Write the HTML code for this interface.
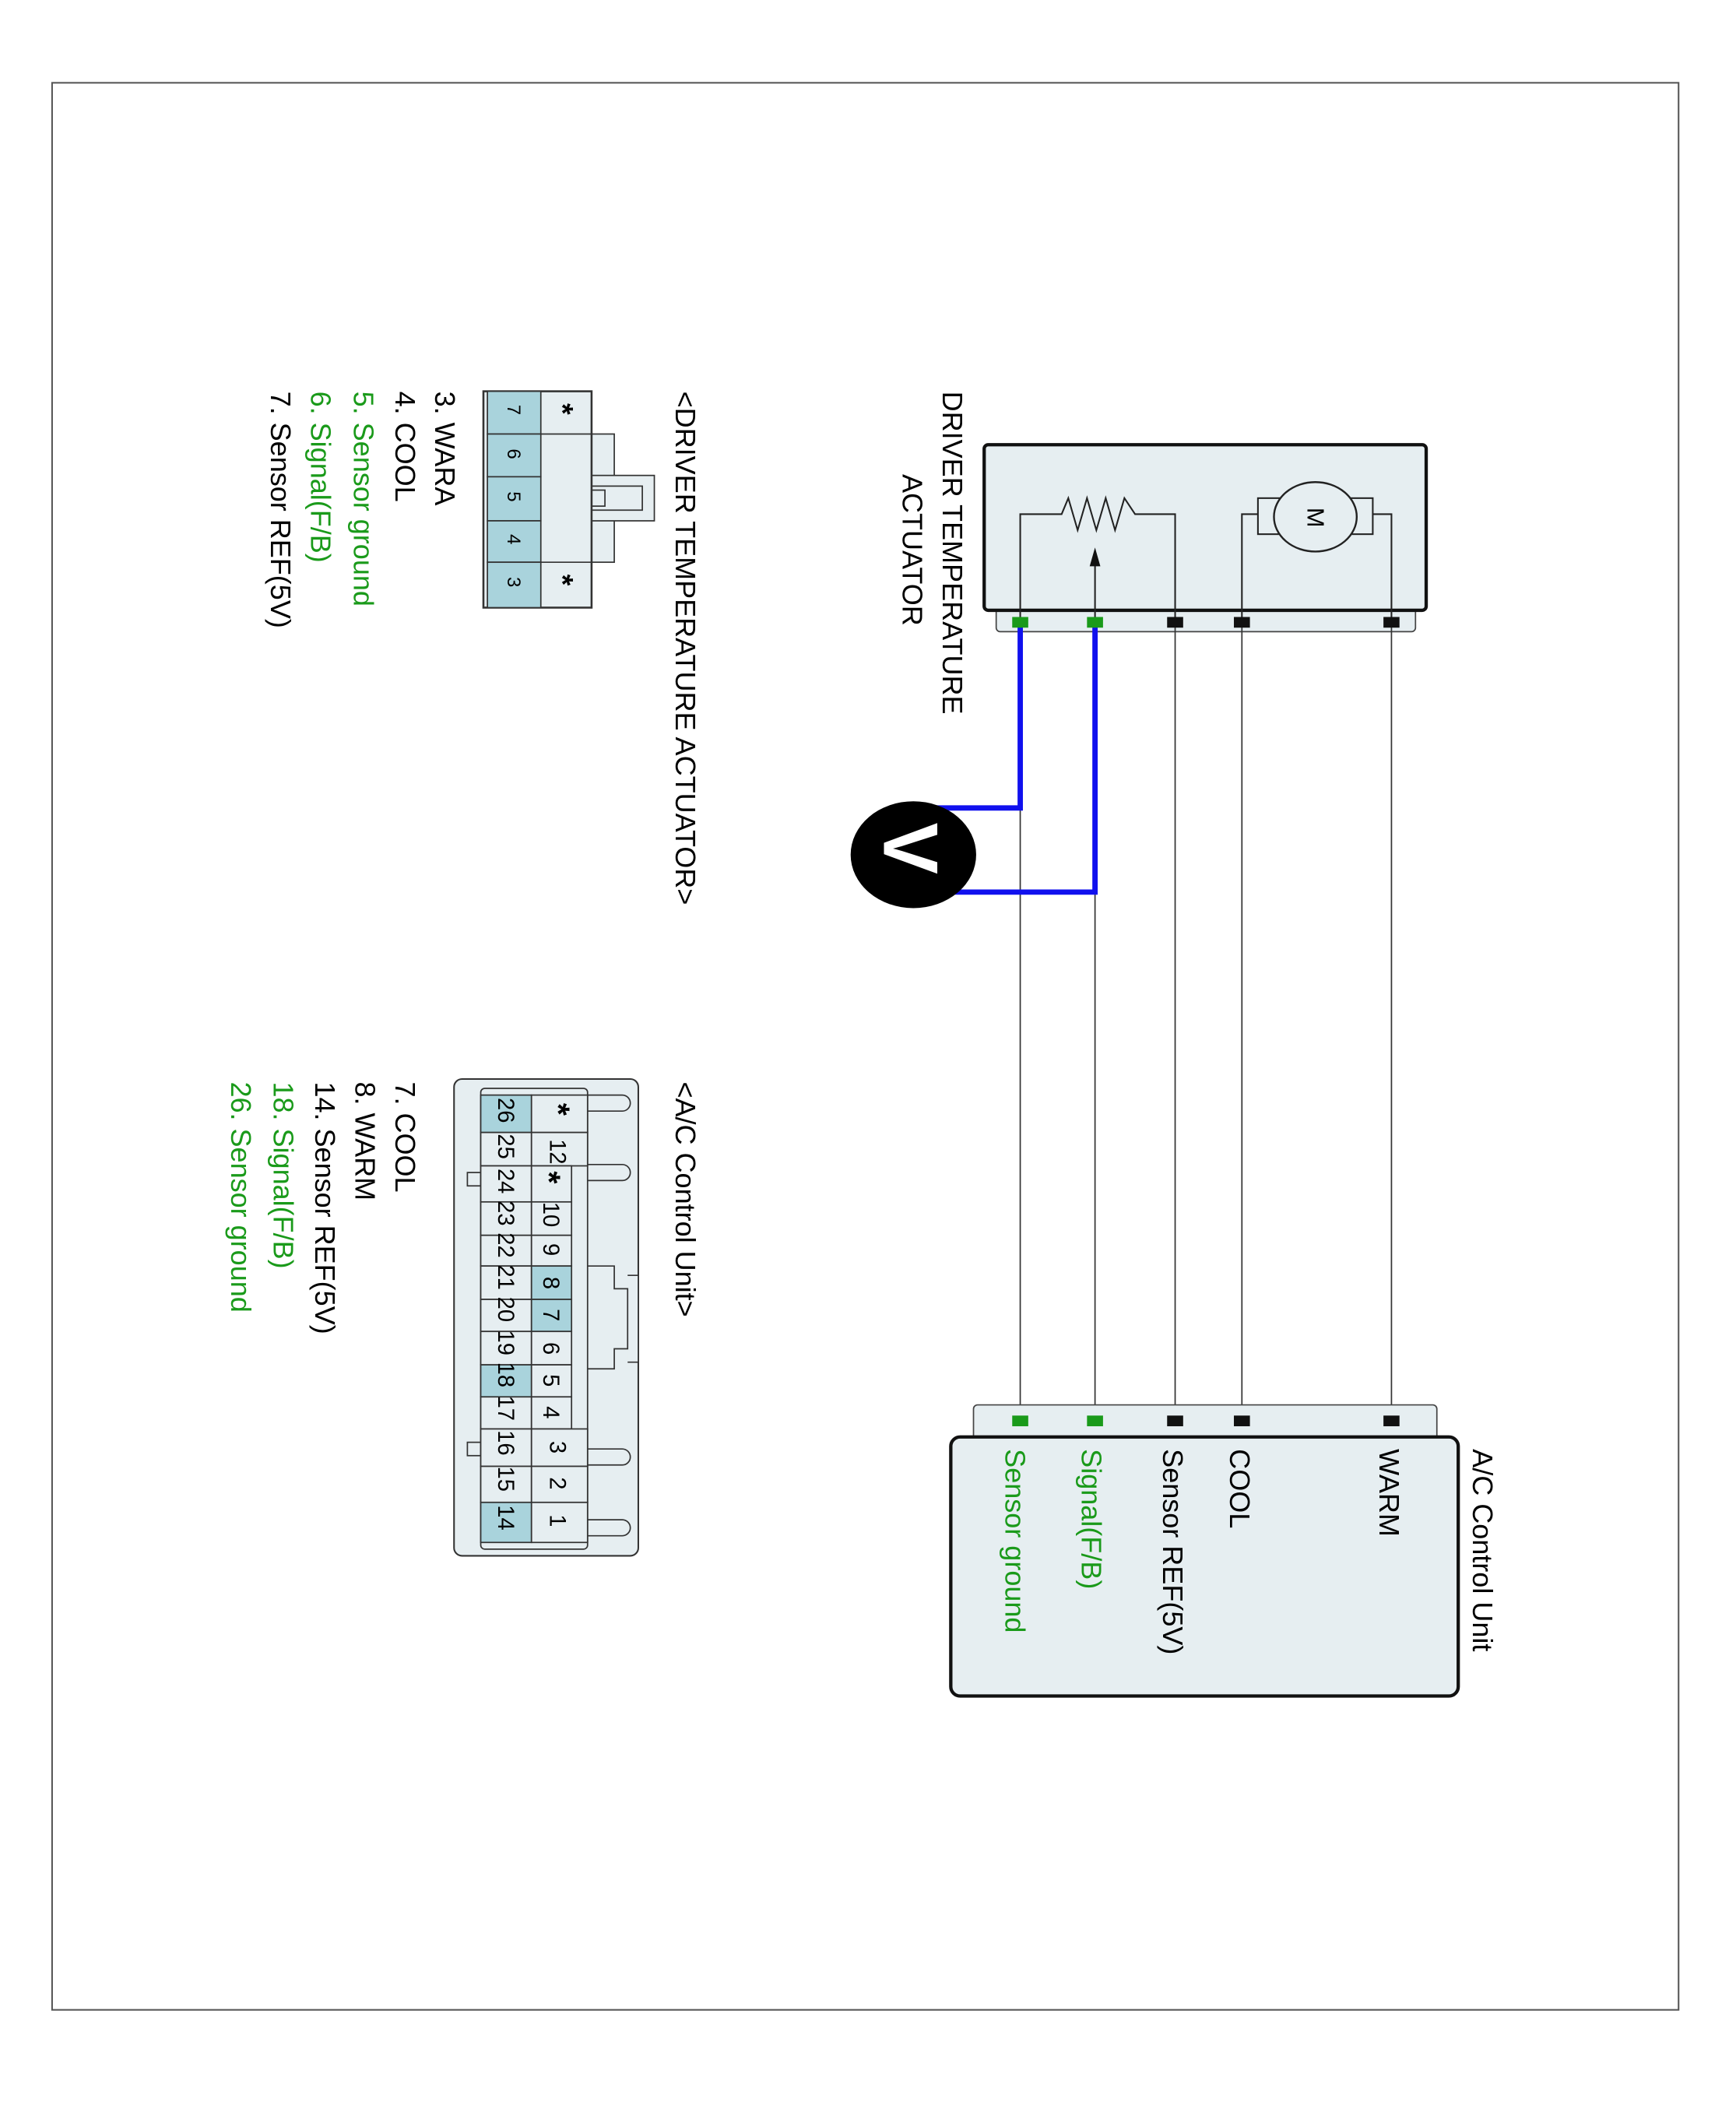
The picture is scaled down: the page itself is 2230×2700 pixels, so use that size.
<!DOCTYPE html>
<html><head><meta charset="utf-8"><style>
html,body{margin:0;padding:0;background:#fff}
svg{display:block}
text{font-family:"Liberation Sans",Arial,sans-serif}
</style></head><body>
<svg width="2230" height="2700" viewBox="0 0 1300 1574" xmlns="http://www.w3.org/2000/svg">
<rect x="0" y="0" width="1300" height="1574" fill="#fff"/>
<rect x="39" y="62" width="1218" height="1443" fill="none" stroke="#555" stroke-width="1.2"/>

<!-- Actuator -->
<rect x="746" y="450" width="314" height="23" rx="3" fill="#e6eef1" stroke="#444" stroke-width="1"/>
<rect x="737" y="333" width="331" height="124" rx="3" fill="#e6eef1" stroke="#111" stroke-width="2.5"/>
<g fill="none" stroke="#222" stroke-width="1.2">
<polyline points="764,466 764,385 795,385 800,373 807,397 814,373 821,397 828,373 835,397 842,373 850,385 880,385 880,466"/>
<line x1="820" y1="466" x2="820" y2="420"/>
<polyline points="930,466 930,385 942,385"/>
<polyline points="1042,466 1042,385 1028,385"/>
<rect x="942" y="373" width="86" height="27"/>
</g>
<polygon points="820,410 816,424 824,424" fill="#111"/>
<ellipse cx="985" cy="387" rx="31" ry="26" fill="#e6eef1" stroke="#222" stroke-width="1.4"/>
<text transform="translate(979,380) rotate(90)" font-size="18">M</text>

<!-- wires -->
<g stroke="#333" stroke-width="1">
<line x1="764" y1="466" x2="764" y2="1064"/>
<line x1="820" y1="466" x2="820" y2="1064"/>
<line x1="880" y1="466" x2="880" y2="1064"/>
<line x1="930" y1="466" x2="930" y2="1064"/>
<line x1="1042" y1="466" x2="1042" y2="1064"/>
</g>
<g fill="none" stroke="#1010ee" stroke-width="4">
<polyline points="764,466 764,605 700,605"/>
<polyline points="820,466 820,668 700,668"/>
</g>
<ellipse cx="684" cy="640" rx="47" ry="40" fill="#000"/>
<text transform="translate(662,616) rotate(90)" font-size="58" font-weight="bold" fill="#fff">V</text>

<!-- pins actuator -->
<rect x="758" y="462" width="12" height="8" fill="#1a9a1a"/>
<rect x="814" y="462" width="12" height="8" fill="#1a9a1a"/>
<rect x="874" y="462" width="12" height="8" fill="#111"/>
<rect x="924" y="462" width="12" height="8" fill="#111"/>
<rect x="1036" y="462" width="12" height="8" fill="#111"/>

<text transform="translate(706,293) rotate(90)" font-size="21">DRIVER TEMPERATURE</text>
<text transform="translate(676,355) rotate(90)" font-size="21">ACTUATOR</text>

<!-- AC unit -->
<rect x="729" y="1052" width="347" height="30" rx="3" fill="#e6eef1" stroke="#444" stroke-width="1"/>
<rect x="712" y="1076" width="380" height="194" rx="7" fill="#e6eef1" stroke="#111" stroke-width="2.5"/>
<rect x="758" y="1060" width="12" height="8" fill="#1a9a1a"/>
<rect x="814" y="1060" width="12" height="8" fill="#1a9a1a"/>
<rect x="874" y="1060" width="12" height="8" fill="#111"/>
<rect x="924" y="1060" width="12" height="8" fill="#111"/>
<rect x="1036" y="1060" width="12" height="8" fill="#111"/>
<text transform="translate(1103,1085) rotate(90)" font-size="21">A/C Control Unit</text>
<text transform="translate(1033,1085) rotate(90)" font-size="21">WARM</text>
<text transform="translate(921,1085) rotate(90)" font-size="21">COOL</text>
<text transform="translate(871,1085) rotate(90)" font-size="21">Sensor REF(5V)</text>
<text transform="translate(810,1085) rotate(90)" font-size="21" fill="#1a9a1a">Signal(F/B)</text>
<text transform="translate(753,1085) rotate(90)" font-size="21" fill="#1a9a1a">Sensor ground</text>

<!-- connector 1 -->
<text transform="translate(506,293) rotate(90)" font-size="21">&lt;DRIVER TEMPERATURE ACTUATOR&gt;</text>
<g stroke="#333" stroke-width="1">
<rect x="443" y="325" width="17" height="96" fill="#e6eef1"/>
<rect x="443" y="356" width="47" height="34" fill="#e6eef1"/>
<rect x="443" y="364" width="38" height="18" fill="none"/>
<rect x="443" y="367" width="10" height="12" fill="none"/>
<rect x="362" y="293" width="81" height="162" fill="#e6eef1" stroke-width="1.5"/>
<rect x="365" y="293" width="40" height="32" fill="#a9d3dc"/>
<rect x="365" y="325" width="40" height="32" fill="#a9d3dc"/>
<rect x="365" y="357" width="40" height="33" fill="#a9d3dc"/>
<rect x="365" y="390" width="40" height="31" fill="#a9d3dc"/>
<rect x="365" y="421" width="40" height="34" fill="#a9d3dc"/>
<line x1="405" y1="325" x2="443" y2="325"/>
<line x1="405" y1="421" x2="443" y2="421"/>
</g>
<g font-size="14">
<text transform="translate(380,303) rotate(90)">7</text>
<text transform="translate(380,336) rotate(90)">6</text>
<text transform="translate(380,368) rotate(90)">5</text>
<text transform="translate(380,400) rotate(90)">4</text>
<text transform="translate(380,432) rotate(90)">3</text>
</g>
<text transform="translate(414,302) rotate(90)" font-size="22" font-weight="bold">*</text>
<text transform="translate(414,430) rotate(90)" font-size="22" font-weight="bold">*</text>
<g font-size="21">
<text transform="translate(326,293) rotate(90)">3. WARA</text>
<text transform="translate(296,293) rotate(90)">4. COOL</text>
<text transform="translate(265,293) rotate(90)" fill="#1a9a1a">5. Sensor ground</text>
<text transform="translate(233,293) rotate(90)" fill="#1a9a1a">6. Signal(F/B)</text>
<text transform="translate(203,293) rotate(90)">7. Sensor REF(5V)</text>
</g>

<!-- connector 2 -->
<text transform="translate(506,810) rotate(90)" font-size="21">&lt;A/C Control Unit&gt;</text>
<rect x="340" y="808" width="138" height="357" rx="6" fill="#e6eef1" stroke="#333" stroke-width="1.2"/>
<g fill="#e6eef1" stroke="#333" stroke-width="1">
<path d="M440,820 H466 a6,6 0 0 1 0,12 H440"/>
<path d="M440,872 H466 a6,6 0 0 1 0,12 H440"/>
<path d="M440,1085 H466 a6,6 0 0 1 0,12 H440"/>
<path d="M440,1138 H466 a6,6 0 0 1 0,12 H440"/>
<path d="M470,955 H478 V1020 H470"/>
<path d="M428,948 H460 V965 H470 V1010 H460 V1025 H428"/>
<rect x="350" y="878" width="10" height="10"/>
<rect x="350" y="1080" width="10" height="10"/>
<rect x="360" y="815" width="80" height="345" rx="3"/>
</g>
<g stroke="#333" stroke-width="1">
<rect x="360" y="820" width="38" height="28" fill="#a9d3dc"/>
<rect x="360" y="848" width="38" height="25" fill="#e6eef1"/>
<rect x="360" y="873" width="38" height="27" fill="#e6eef1"/>
<rect x="360" y="900" width="38" height="25" fill="#e6eef1"/>
<rect x="360" y="925" width="38" height="23" fill="#e6eef1"/>
<rect x="360" y="948" width="38" height="25" fill="#e6eef1"/>
<rect x="360" y="973" width="38" height="24" fill="#e6eef1"/>
<rect x="360" y="997" width="38" height="25" fill="#e6eef1"/>
<rect x="360" y="1022" width="38" height="24" fill="#a9d3dc"/>
<rect x="360" y="1046" width="38" height="24" fill="#e6eef1"/>
<rect x="360" y="1070" width="38" height="28" fill="#e6eef1"/>
<rect x="360" y="1098" width="38" height="27" fill="#e6eef1"/>
<rect x="360" y="1125" width="38" height="30" fill="#a9d3dc"/>
<rect x="398" y="820" width="42" height="28" fill="#e6eef1"/>
<rect x="398" y="848" width="42" height="25" fill="#e6eef1"/>
<rect x="398" y="873" width="30" height="27" fill="#e6eef1"/>
<rect x="398" y="900" width="30" height="25" fill="#e6eef1"/>
<rect x="398" y="925" width="30" height="23" fill="#e6eef1"/>
<rect x="398" y="948" width="30" height="25" fill="#a9d3dc"/>
<rect x="398" y="973" width="30" height="24" fill="#a9d3dc"/>
<rect x="398" y="997" width="30" height="25" fill="#e6eef1"/>
<rect x="398" y="1022" width="30" height="24" fill="#e6eef1"/>
<rect x="398" y="1046" width="30" height="24" fill="#e6eef1"/>
<rect x="398" y="1070" width="42" height="28" fill="#e6eef1"/>
<rect x="398" y="1098" width="42" height="27" fill="#e6eef1"/>
<rect x="398" y="1125" width="42" height="30" fill="#e6eef1"/>
</g>
<g font-size="17">
<text transform="translate(373,822) rotate(90)">26</text>
<text transform="translate(373,849) rotate(90)">25</text>
<text transform="translate(373,875) rotate(90)">24</text>
<text transform="translate(373,899) rotate(90)">23</text>
<text transform="translate(373,923) rotate(90)">22</text>
<text transform="translate(373,947) rotate(90)">21</text>
<text transform="translate(373,971) rotate(90)">20</text>
<text transform="translate(373,996) rotate(90)">19</text>
<text transform="translate(373,1020) rotate(90)">18</text>
<text transform="translate(373,1045) rotate(90)">17</text>
<text transform="translate(373,1071) rotate(90)">16</text>
<text transform="translate(373,1098) rotate(90)">15</text>
<text transform="translate(373,1127) rotate(90)">14</text>
<text transform="translate(412,853) rotate(90)">12</text>
<text transform="translate(407,900) rotate(90)">10</text>
<text transform="translate(407,931) rotate(90)">9</text>
<text transform="translate(407,956) rotate(90)">8</text>
<text transform="translate(407,980) rotate(90)">7</text>
<text transform="translate(407,1005) rotate(90)">6</text>
<text transform="translate(407,1029) rotate(90)">5</text>
<text transform="translate(407,1053) rotate(90)">4</text>
<text transform="translate(412,1079) rotate(90)">3</text>
<text transform="translate(412,1106) rotate(90)">2</text>
<text transform="translate(412,1134) rotate(90)">1</text>
</g>
<text transform="translate(410,826) rotate(90)" font-size="24" font-weight="bold">*</text>
<text transform="translate(403,877) rotate(90)" font-size="24" font-weight="bold">*</text>
<g font-size="21">
<text transform="translate(296,810) rotate(90)">7. COOL</text>
<text transform="translate(266,810) rotate(90)">8. WARM</text>
<text transform="translate(236,810) rotate(90)">14. Sensor REF(5V)</text>
<text transform="translate(205,810) rotate(90)" fill="#1a9a1a">18. Signal(F/B)</text>
<text transform="translate(173,810) rotate(90)" fill="#1a9a1a">26. Sensor ground</text>
</g>
</svg>
</body></html>
